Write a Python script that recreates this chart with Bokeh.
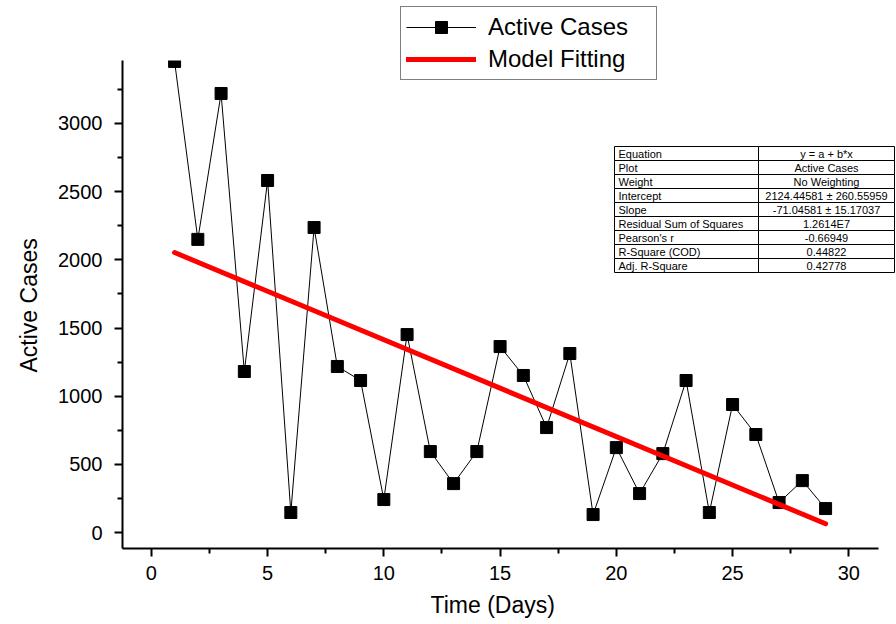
from bokeh.plotting import figure
from bokeh.models import (Legend, LegendItem, FixedTicker, Range1d,
                          BoxAnnotation, Label, Title)
from bokeh.embed import file_html
from bokeh.resources import INLINE

# ---- data ----
days = list(range(1, 30))
active_cases = [3455, 2150, 3220, 1181, 2582, 147, 2237, 1218, 1115, 242,
                1452, 594, 359, 594, 1364, 1152, 770, 1313, 132, 623,
                286, 579, 1115, 147, 939, 719, 220, 381, 176]
fit_intercept = 2124.44581
fit_slope = -71.04581
fit_days = [1, 29]

x_major = [0, 5, 10, 15, 20, 25, 30]
x_minor = [2.5, 7.5, 12.5, 17.5, 22.5, 27.5]
y_major = [0, 500, 1000, 1500, 2000, 2500, 3000]
y_minor = [250, 750, 1250, 1750, 2250, 2750, 3250]
x_bounds = (-1.24, 31.28)
y_bounds = (-117, 3462)

table_keys = ["Equation", "Plot", "Weight", "Intercept", "Slope",
              "Residual Sum of Squares", "Pearson's r", "R-Square (COD)",
              "Adj. R-Square"]
table_values = ["y = a + b*x", "Active Cases", "No Weighting",
                "2124.44581 \u00b1 260.55959", "-71.04581 \u00b1 15.17037",
                "1.2614E7", "-0.66949", "0.44822", "0.42778"]

FONT = "Liberation Sans"

p = figure(width=896, height=624, output_backend="svg", toolbar_location=None,
           x_range=Range1d(x_bounds[0], 32.05), y_range=Range1d(y_bounds[0], 3902),
           min_border_left=122, min_border_right=0, min_border_top=0,
           min_border_bottom=76)
p.outline_line_color = None
p.xgrid.visible = False
p.ygrid.visible = False
p.background_fill_color = "white"

# axes
p.xaxis.ticker = FixedTicker(ticks=x_major, minor_ticks=x_minor)
p.yaxis.ticker = FixedTicker(ticks=y_major, minor_ticks=y_minor)
p.xaxis.bounds = x_bounds
p.yaxis.bounds = y_bounds
for ax in (p.xaxis[0], p.yaxis[0]):
    ax.axis_line_width = 2
    ax.axis_line_color = "black"
    ax.major_tick_line_width = 2
    ax.minor_tick_line_width = 2
    ax.major_tick_line_color = "black"
    ax.minor_tick_line_color = "black"
    ax.major_tick_in = 0
    ax.major_tick_out = 8
    ax.minor_tick_in = 0
    ax.minor_tick_out = 5
    ax.major_label_text_font = FONT
    ax.major_label_text_font_size = "20px"
    ax.major_label_text_color = "black"
p.xaxis.major_label_standoff = 9
p.yaxis.major_label_standoff = 12

# axis titles (placed as side titles so they centre on the drawn axis)
p.add_layout(Title(text="Time (Days)", align="left", offset=308, standoff=14,
                   text_font=FONT, text_font_size="23px",
                   text_font_style="normal", text_color="black"), "below")
p.add_layout(Title(text="Active Cases", align="left", offset=176, standoff=27,
                   text_font=FONT, text_font_size="23px",
                   text_font_style="normal", text_color="black"), "left")

# data
r_line = p.line(days, active_cases, line_color="black", line_width=1)
r_mark = p.scatter(days, active_cases, marker="square", size=12,
                   fill_color="black", line_color="black")
fit_vals = [fit_intercept + fit_slope * d for d in fit_days]
r_fit = p.line(fit_days, fit_vals, line_color="#ff0000", line_width=5,
               line_cap="round")

# mask above the top of the y axis (the original clips the first marker there)
p.add_layout(BoxAnnotation(bottom=y_bounds[1], left=days[0] - 0.5,
                           right=days[0] + 0.5, fill_color="white",
                           fill_alpha=1, line_alpha=0))

legend = Legend(items=[LegendItem(label="Active Cases", renderers=[r_line, r_mark]),
                       LegendItem(label="Model Fitting", renderers=[r_fit])],
                location=(278, 468), orientation="vertical",
                glyph_width=70, glyph_height=30, label_height=30,
                label_width=163, label_standoff=12, padding=5, spacing=2,
                margin=0, border_line_color="black", border_line_width=1,
                background_fill_alpha=1, label_text_font=FONT,
                label_text_font_size="24px", label_text_color="black")
p.add_layout(legend, "center")

# table (screen coords relative to frame bottom-left)
t_left, t_mid, t_right, t_top, row_h = 492, 636, 772, 402, 14
for i, (k, v) in enumerate(zip(table_keys, table_values)):
    top = t_top - i * row_h
    bot = top - row_h
    for (l, r) in ((t_left, t_mid), (t_mid, t_right)):
        p.add_layout(BoxAnnotation(left=l, right=r, top=top, bottom=bot,
                                   left_units="screen", right_units="screen",
                                   top_units="screen", bottom_units="screen",
                                   fill_color="white", fill_alpha=1,
                                   line_color="black", line_width=1,
                                   line_alpha=1))
    p.add_layout(Label(x=t_left + 4, y=(top + bot) / 2, x_units="screen",
                       y_units="screen", text=k, text_font=FONT,
                       text_font_size="11px", text_baseline="middle",
                       text_align="left", text_color="black"))
    p.add_layout(Label(x=(t_mid + t_right) / 2, y=(top + bot) / 2,
                       x_units="screen", y_units="screen", text=v,
                       text_font=FONT, text_font_size="11px",
                       text_baseline="middle", text_align="center",
                       text_color="black"))

open("out.html", "w").write(file_html(p, INLINE))
